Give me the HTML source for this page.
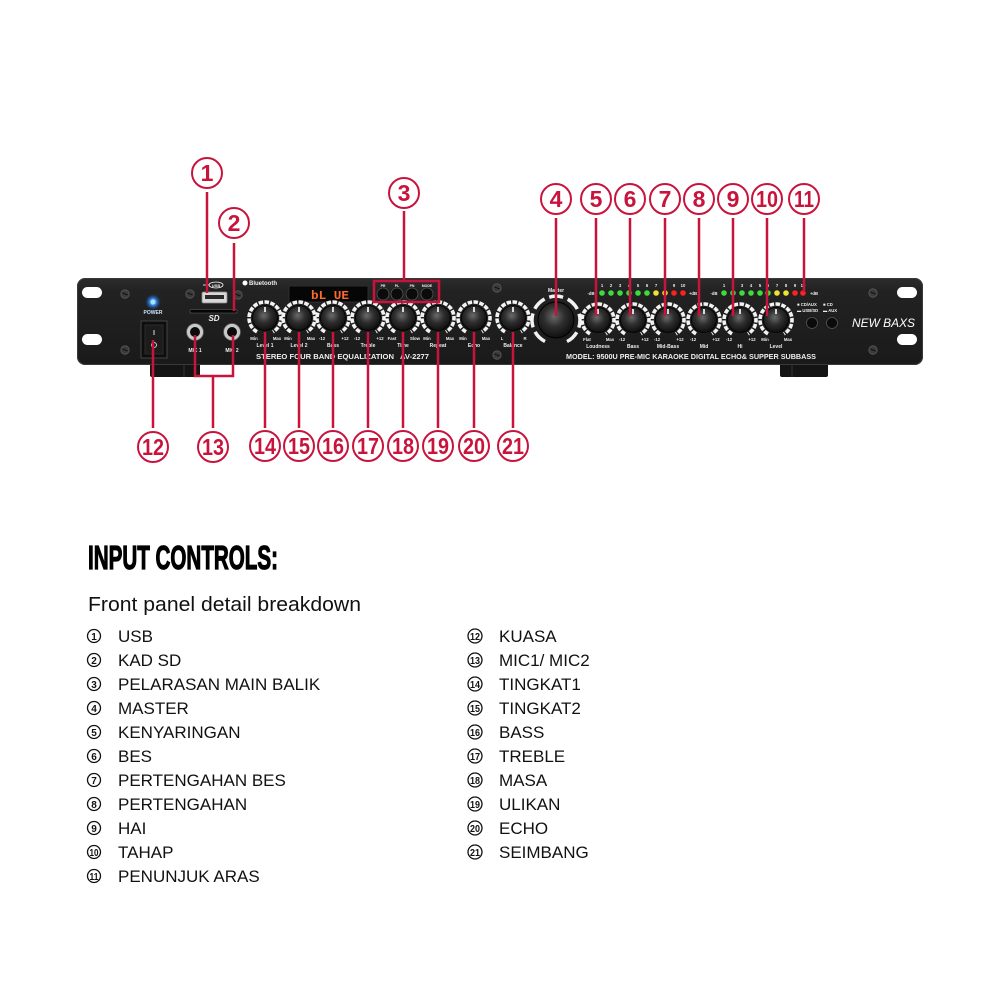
<!DOCTYPE html>
<html>
<head>
<meta charset="utf-8">
<style>
html,body{margin:0;padding:0;background:#fff;}
svg{display:block;}
.pt{font-family:"Liberation Sans",Arial,sans-serif;font-weight:bold;fill:#eee;}
.cn{font-family:"Liberation Sans",Arial,sans-serif;font-weight:bold;fill:#c8143c;font-size:23px;text-anchor:middle;}
.li{font-family:"Liberation Sans",Arial,sans-serif;font-size:17px;fill:#111;}
.ln{font-family:"Liberation Sans",Arial,sans-serif;font-weight:bold;font-size:10px;fill:#111;text-anchor:middle;}
</style>
</head>
<body>
<svg width="1000" height="1000" viewBox="0 0 1000 1000" xmlns="http://www.w3.org/2000/svg">
<defs>
  <linearGradient id="pg" x1="0" y1="0" x2="0" y2="1">
    <stop offset="0" stop-color="#2c2c2c"/>
    <stop offset="0.15" stop-color="#222"/>
    <stop offset="1" stop-color="#1a1a1a"/>
  </linearGradient>
  <radialGradient id="kg" cx="0.45" cy="0.4" r="0.65">
    <stop offset="0" stop-color="#6a6a6a"/>
    <stop offset="0.45" stop-color="#2e2e2e"/>
    <stop offset="1" stop-color="#0a0a0a"/>
  </radialGradient>
  <radialGradient id="led" cx="0.5" cy="0.5" r="0.5">
    <stop offset="0" stop-color="#bfe4ff"/>
    <stop offset="0.35" stop-color="#3a9cff"/>
    <stop offset="1" stop-color="#1a4aa0" stop-opacity="0"/>
  </radialGradient>
  <g id="knob">
    <path d="M -8 13.86 A 16 16 0 1 1 8 13.86" fill="none" stroke="#f2f2f2" stroke-width="3.6" stroke-dasharray="4.5 1.4"/>
    <circle r="12.5" fill="url(#kg)" stroke="#000" stroke-width="0.8"/>
    <rect x="-0.8" y="-11" width="1.6" height="5" fill="#fff"/>
  </g>
  <g id="mknob">
    <path d="M -11 21.5 A 24 24 0 1 1 11 21.5" fill="none" stroke="#f2f2f2" stroke-width="3.5" stroke-dasharray="14 5"/>
    <circle r="18" fill="url(#kg)" stroke="#000" stroke-width="1"/>
    <rect x="-1" y="-16" width="2" height="6" fill="#fff"/>
  </g>
  <g id="screw">
    <circle r="4.2" fill="#3a3a3a" stroke="#5a5a5a" stroke-width="0.8"/>
    <path d="M-2.5 -1 L2.5 1" stroke="#111" stroke-width="1"/>
  </g>
</defs>

<!-- feet -->
<rect x="150" y="360" width="50" height="17" rx="2" fill="#141414"/>
<line x1="184" y1="362" x2="184" y2="377" stroke="#333" stroke-width="1"/>
<rect x="780" y="360" width="48" height="17" rx="2" fill="#141414"/>
<line x1="792" y1="362" x2="792" y2="377" stroke="#333" stroke-width="1"/>

<!-- panel -->
<rect x="77" y="278" width="846" height="87" rx="8" fill="url(#pg)"/>
<rect x="77.5" y="278.5" width="845" height="86" rx="8" fill="none" stroke="#3a3a3a" stroke-width="1"/>
<!-- ear slots -->
<rect x="82" y="287" width="20" height="11" rx="5.5" fill="#fff"/>
<rect x="82" y="334" width="20" height="11" rx="5.5" fill="#fff"/>
<rect x="897" y="287" width="20" height="11" rx="5.5" fill="#fff"/>
<rect x="897" y="334" width="20" height="11" rx="5.5" fill="#fff"/>

<!-- screws -->
<use href="#screw" x="125" y="294"/>
<use href="#screw" x="125" y="350"/>
<use href="#screw" x="190" y="294"/>
<use href="#screw" x="238" y="295"/>
<use href="#screw" x="497" y="288"/>
<use href="#screw" x="497" y="355"/>
<use href="#screw" x="873" y="293"/>
<use href="#screw" x="873" y="350"/>

<!-- power -->
<circle cx="153" cy="302" r="8" fill="url(#led)"/>
<circle cx="153" cy="302" r="2.5" fill="#aee0ff"/>
<text x="153" y="314" class="pt" font-size="5" text-anchor="middle" style="fill:#cfe6ff">POWER</text>
<rect x="141" y="321" width="26" height="37" fill="#0e0e0e" stroke="#444" stroke-width="1"/>
<rect x="145" y="325" width="18" height="29" fill="#1c1c1c" stroke="#333" stroke-width="0.8"/>
<line x1="154" y1="330" x2="154" y2="335" stroke="#ddd" stroke-width="1"/>
<circle cx="154" cy="345" r="2.5" fill="none" stroke="#ddd" stroke-width="0.9"/>

<!-- USB -->
<ellipse cx="216" cy="285" rx="7" ry="3" fill="none" stroke="#fff" stroke-width="0.8"/>
<text x="216" y="287" class="pt" font-size="4" text-anchor="middle">USB</text>
<path d="M203 285 H209" stroke="#fff" stroke-width="0.8"/>
<rect x="202" y="292" width="25" height="11" rx="1.5" fill="#d8d8d8" stroke="#888" stroke-width="0.8"/>
<rect x="205" y="295" width="19" height="4" fill="#2a2a2a"/>
<!-- SD -->
<rect x="190" y="309.5" width="47" height="3.5" rx="1" fill="#050505" stroke="#666" stroke-width="0.6"/>
<text x="214" y="321" class="pt" font-size="8" text-anchor="middle" font-style="italic">SD</text>
<!-- MIC jacks -->
<circle cx="195" cy="332" r="8.5" fill="#c8c8c8" stroke="#555" stroke-width="0.8"/>
<circle cx="195" cy="332" r="5" fill="#0a0a0a"/>
<circle cx="232" cy="332" r="8.5" fill="#c8c8c8" stroke="#555" stroke-width="0.8"/>
<circle cx="232" cy="332" r="5" fill="#0a0a0a"/>
<text x="195" y="352" class="pt" font-size="5" text-anchor="middle">MIC 1</text>
<text x="232" y="352" class="pt" font-size="5" text-anchor="middle">MIC 2</text>

<!-- Bluetooth -->
<circle cx="245" cy="283" r="2.5" fill="#fff"/>
<text x="249" y="285" class="pt" font-size="6">Bluetooth</text>

<!-- display -->
<rect x="289" y="286" width="79" height="16" fill="#060606" stroke="#333" stroke-width="0.8"/>
<text x="311" y="299" font-family="Liberation Mono, monospace" font-weight="bold" font-size="12" fill="#ff6a2a" textLength="38" lengthAdjust="spacingAndGlyphs">bL UE</text>

<!-- buttons group -->
<text x="383" y="287" class="pt" font-size="3.5" text-anchor="middle">PR</text>
<text x="397" y="287" class="pt" font-size="3.5" text-anchor="middle">PL</text>
<text x="412" y="287" class="pt" font-size="3.5" text-anchor="middle">PN</text>
<text x="427" y="287" class="pt" font-size="3.5" text-anchor="middle">MODE</text>
<circle cx="383" cy="294" r="6" fill="#0b0b0b" stroke="#555" stroke-width="0.8"/>
<circle cx="397" cy="294" r="6" fill="#0b0b0b" stroke="#555" stroke-width="0.8"/>
<circle cx="412" cy="294" r="6" fill="#0b0b0b" stroke="#555" stroke-width="0.8"/>
<circle cx="427" cy="294" r="6" fill="#0b0b0b" stroke="#555" stroke-width="0.8"/>

<!-- row 1 knobs -->
<use href="#knob" x="265" y="318"/>
<use href="#knob" x="299" y="318"/>
<use href="#knob" x="333" y="318"/>
<use href="#knob" x="368" y="318"/>
<use href="#knob" x="403" y="318"/>
<use href="#knob" x="438" y="318"/>
<use href="#knob" x="474" y="318"/>
<use href="#knob" x="513" y="318"/>
<g class="pt" font-size="4.3" text-anchor="middle">
  <text x="254" y="340">Min</text><text x="277" y="340">Max</text>
  <text x="288" y="340">Min</text><text x="311" y="340">Max</text>
  <text x="322" y="340">-12</text><text x="345" y="340">+12</text>
  <text x="357" y="340">-12</text><text x="380" y="340">+12</text>
  <text x="392" y="340">Fast</text><text x="415" y="340">Slow</text>
  <text x="427" y="340">Min</text><text x="450" y="340">Max</text>
  <text x="463" y="340">Min</text><text x="486" y="340">Max</text>
  <text x="502" y="340">L</text><text x="525" y="340">R</text>
</g>
<g class="pt" font-size="5" text-anchor="middle">
  <text x="265" y="347">Level 1</text>
  <text x="299" y="347">Level 2</text>
  <text x="333" y="347">Bass</text>
  <text x="368" y="347">Treble</text>
  <text x="403" y="347">Time</text>
  <text x="438" y="347">Repeat</text>
  <text x="474" y="347">Echo</text>
  <text x="513" y="347">Balance</text>
</g>
<text x="256" y="359" class="pt" font-size="7.5" textLength="138" lengthAdjust="spacingAndGlyphs">STEREO FOUR BAND EQUALIZATION</text>
<text x="400" y="359" class="pt" font-size="7.5" textLength="29" lengthAdjust="spacingAndGlyphs">AV-2277</text>

<!-- master -->
<text x="556" y="292" class="pt" font-size="5" text-anchor="middle">Master</text>
<use href="#mknob" x="556" y="320"/>

<!-- right knobs -->
<use href="#knob" x="598" y="320"/>
<use href="#knob" x="633" y="320"/>
<use href="#knob" x="668" y="320"/>
<use href="#knob" x="704" y="320"/>
<use href="#knob" x="740" y="320"/>
<use href="#knob" x="776" y="320"/>
<g class="pt" font-size="4.3" text-anchor="middle">
  <text x="587" y="341">Flat</text><text x="610" y="341">Max</text>
  <text x="622" y="341">-12</text><text x="645" y="341">+12</text>
  <text x="657" y="341">-12</text><text x="680" y="341">+12</text>
  <text x="693" y="341">-12</text><text x="716" y="341">+12</text>
  <text x="729" y="341">-12</text><text x="752" y="341">+12</text>
  <text x="765" y="341">Min</text><text x="788" y="341">Max</text>
</g>
<g class="pt" font-size="5" text-anchor="middle">
  <text x="598" y="348">Loudness</text>
  <text x="633" y="348">Bass</text>
  <text x="668" y="348">Mid-Bass</text>
  <text x="704" y="348">Mid</text>
  <text x="740" y="348">Hi</text>
  <text x="776" y="348">Level</text>
</g>
<text x="566" y="359" class="pt" font-size="7.5" textLength="250" lengthAdjust="spacingAndGlyphs">MODEL:  9500U  PRE-MIC KARAOKE DIGITAL ECHO&amp; SUPPER SUBBASS</text>

<!-- LEDs -->
<g class="pt" font-size="4.2" text-anchor="middle">
  <text x="591" y="295">-dB</text><text x="693" y="295">+dB</text>
  <text x="602" y="287">1</text><text x="611" y="287">2</text><text x="620" y="287">3</text><text x="629" y="287">4</text><text x="638" y="287">5</text><text x="647" y="287">6</text><text x="656" y="287">7</text><text x="665" y="287">8</text><text x="674" y="287">9</text><text x="683" y="287">10</text>
  <text x="714" y="295">-dB</text><text x="814" y="295">+dB</text>
  <text x="724" y="287">1</text><text x="733" y="287">2</text><text x="742" y="287">3</text><text x="751" y="287">4</text><text x="760" y="287">5</text><text x="768" y="287">6</text><text x="777" y="287">7</text><text x="786" y="287">8</text><text x="795" y="287">9</text><text x="803" y="287">10</text>
</g>
<g>
  <circle cx="602" cy="293" r="2.8" fill="#3ddc3d"/><circle cx="611" cy="293" r="2.8" fill="#3ddc3d"/><circle cx="620" cy="293" r="2.8" fill="#3ddc3d"/><circle cx="629" cy="293" r="2.8" fill="#3ddc3d"/><circle cx="638" cy="293" r="2.8" fill="#3ddc3d"/><circle cx="647" cy="293" r="2.8" fill="#3ddc3d"/><circle cx="656" cy="293" r="2.8" fill="#f0e030"/><circle cx="665" cy="293" r="2.8" fill="#f0e030"/><circle cx="674" cy="293" r="2.8" fill="#ff2020"/><circle cx="683" cy="293" r="2.8" fill="#ff2020"/>
  <circle cx="724" cy="293" r="2.8" fill="#3ddc3d"/><circle cx="733" cy="293" r="2.8" fill="#3ddc3d"/><circle cx="742" cy="293" r="2.8" fill="#3ddc3d"/><circle cx="751" cy="293" r="2.8" fill="#3ddc3d"/><circle cx="760" cy="293" r="2.8" fill="#3ddc3d"/><circle cx="768" cy="293" r="2.8" fill="#3ddc3d"/><circle cx="777" cy="293" r="2.8" fill="#f0e030"/><circle cx="786" cy="293" r="2.8" fill="#f0e030"/><circle cx="795" cy="293" r="2.8" fill="#ff2020"/><circle cx="803" cy="293" r="2.8" fill="#ff2020"/>
</g>

<!-- selector -->
<g class="pt" font-size="4.2">
  <text x="797" y="306">■ CD/AUX</text><text x="797" y="312">▬ USB/SD</text>
  <text x="823" y="306">■ CD</text><text x="823" y="312">▬ AUX</text>
</g>
<circle cx="812" cy="323" r="5.5" fill="#0b0b0b" stroke="#555" stroke-width="0.8"/>
<circle cx="832" cy="323" r="5.5" fill="#0b0b0b" stroke="#555" stroke-width="0.8"/>
<text x="852" y="327" class="pt" font-size="12" font-style="italic" textLength="63" lengthAdjust="spacingAndGlyphs" style="font-weight:normal;fill:#fff">NEW BAXS</text>

<!-- callout lines -->
<g stroke="#c8143c" stroke-width="2.5" fill="none">
  <line x1="207" y1="192" x2="207" y2="293"/>
  <line x1="234" y1="243" x2="234" y2="311"/>
  <line x1="404" y1="211" x2="404" y2="281"/>
  <rect x="374" y="281" width="65" height="21"/>
  <line x1="556" y1="218" x2="556" y2="316"/>
  <line x1="596" y1="218" x2="596" y2="316"/>
  <line x1="630" y1="218" x2="630" y2="316"/>
  <line x1="665" y1="218" x2="665" y2="316"/>
  <line x1="699" y1="218" x2="699" y2="316"/>
  <line x1="733" y1="218" x2="733" y2="316"/>
  <line x1="767" y1="218" x2="767" y2="316"/>
  <line x1="804" y1="218" x2="804" y2="292"/>
  <line x1="153" y1="340" x2="153" y2="428"/>
  <path d="M195 335 V376 H233 V335"/>
  <line x1="213" y1="376" x2="213" y2="428"/>
  <line x1="265" y1="332" x2="265" y2="428"/>
  <line x1="299" y1="332" x2="299" y2="428"/>
  <line x1="333" y1="332" x2="333" y2="428"/>
  <line x1="368" y1="332" x2="368" y2="428"/>
  <line x1="403" y1="332" x2="403" y2="428"/>
  <line x1="438" y1="332" x2="438" y2="428"/>
  <line x1="474" y1="332" x2="474" y2="428"/>
  <line x1="513" y1="332" x2="513" y2="428"/>
</g>

<!-- callout circles -->
<g stroke="#c8143c" stroke-width="2" fill="#fff">
  <circle cx="207" cy="173" r="15"/>
  <circle cx="234" cy="223" r="15"/>
  <circle cx="404" cy="193" r="15"/>
  <circle cx="556" cy="199" r="15"/>
  <circle cx="596" cy="199" r="15"/>
  <circle cx="630" cy="199" r="15"/>
  <circle cx="665" cy="199" r="15"/>
  <circle cx="699" cy="199" r="15"/>
  <circle cx="733" cy="199" r="15"/>
  <circle cx="767" cy="199" r="15"/>
  <circle cx="804" cy="199" r="15"/>
  <circle cx="153" cy="447" r="15"/>
  <circle cx="213" cy="447" r="15"/>
  <circle cx="265" cy="446" r="15"/>
  <circle cx="299" cy="446" r="15"/>
  <circle cx="333" cy="446" r="15"/>
  <circle cx="368" cy="446" r="15"/>
  <circle cx="403" cy="446" r="15"/>
  <circle cx="438" cy="446" r="15"/>
  <circle cx="474" cy="446" r="15"/>
  <circle cx="513" cy="446" r="15"/>
</g>
<g class="cn">
  <text x="207" y="181">1</text>
  <text x="234" y="231">2</text>
  <text x="404" y="201">3</text>
  <text x="556" y="207">4</text>
  <text x="596" y="207">5</text>
  <text x="630" y="207">6</text>
  <text x="665" y="207">7</text>
  <text x="699" y="207">8</text>
  <text x="733" y="207">9</text>
  <text x="767" y="207" textLength="22" lengthAdjust="spacingAndGlyphs">10</text>
  <text x="804" y="207" textLength="20" lengthAdjust="spacingAndGlyphs">11</text>
  <text x="153" y="455" textLength="22" lengthAdjust="spacingAndGlyphs">12</text>
  <text x="213" y="455" textLength="22" lengthAdjust="spacingAndGlyphs">13</text>
  <text x="265" y="454" textLength="22" lengthAdjust="spacingAndGlyphs">14</text>
  <text x="299" y="454" textLength="22" lengthAdjust="spacingAndGlyphs">15</text>
  <text x="333" y="454" textLength="22" lengthAdjust="spacingAndGlyphs">16</text>
  <text x="368" y="454" textLength="22" lengthAdjust="spacingAndGlyphs">17</text>
  <text x="403" y="454" textLength="22" lengthAdjust="spacingAndGlyphs">18</text>
  <text x="438" y="454" textLength="22" lengthAdjust="spacingAndGlyphs">19</text>
  <text x="474" y="454" textLength="22" lengthAdjust="spacingAndGlyphs">20</text>
  <text x="513" y="454" textLength="22" lengthAdjust="spacingAndGlyphs">21</text>
</g>

<!-- heading -->
<text x="88" y="569" font-family="Liberation Sans Narrow, Liberation Sans, Arial, sans-serif" font-weight="bold" font-size="33" fill="#000" stroke="#000" stroke-width="1.2" textLength="190" lengthAdjust="spacingAndGlyphs">INPUT CONTROLS:</text>
<text x="88" y="611" font-family="Liberation Sans, Arial, sans-serif" font-size="20" fill="#111" textLength="273" lengthAdjust="spacingAndGlyphs">Front panel detail breakdown</text>

<!-- list circles -->
<g fill="none" stroke="#111" stroke-width="1.3">
  <circle cx="94" cy="636" r="6.5"/><circle cx="94" cy="660" r="6.5"/><circle cx="94" cy="684" r="6.5"/><circle cx="94" cy="708" r="6.5"/><circle cx="94" cy="732" r="6.5"/><circle cx="94" cy="756" r="6.5"/><circle cx="94" cy="780" r="6.5"/><circle cx="94" cy="804" r="6.5"/><circle cx="94" cy="828" r="6.5"/><circle cx="94" cy="852" r="6.5"/><circle cx="94" cy="876" r="6.5"/>
  <circle cx="475" cy="636" r="7"/><circle cx="475" cy="660" r="7"/><circle cx="475" cy="684" r="7"/><circle cx="475" cy="708" r="7"/><circle cx="475" cy="732" r="7"/><circle cx="475" cy="756" r="7"/><circle cx="475" cy="780" r="7"/><circle cx="475" cy="804" r="7"/><circle cx="475" cy="828" r="7"/><circle cx="475" cy="852" r="7"/>
</g>
<g class="ln">
  <text x="94" y="640">1</text><text x="94" y="664">2</text><text x="94" y="688">3</text><text x="94" y="712">4</text><text x="94" y="736">5</text><text x="94" y="760">6</text><text x="94" y="784">7</text><text x="94" y="808">8</text><text x="94" y="832">9</text>
  <text x="94" y="856" textLength="9" lengthAdjust="spacingAndGlyphs">10</text>
  <text x="94" y="880" textLength="9" lengthAdjust="spacingAndGlyphs">11</text>
  <text x="475" y="640" textLength="10" lengthAdjust="spacingAndGlyphs">12</text>
  <text x="475" y="664" textLength="10" lengthAdjust="spacingAndGlyphs">13</text>
  <text x="475" y="688" textLength="10" lengthAdjust="spacingAndGlyphs">14</text>
  <text x="475" y="712" textLength="10" lengthAdjust="spacingAndGlyphs">15</text>
  <text x="475" y="736" textLength="10" lengthAdjust="spacingAndGlyphs">16</text>
  <text x="475" y="760" textLength="10" lengthAdjust="spacingAndGlyphs">17</text>
  <text x="475" y="784" textLength="10" lengthAdjust="spacingAndGlyphs">18</text>
  <text x="475" y="808" textLength="10" lengthAdjust="spacingAndGlyphs">19</text>
  <text x="475" y="832" textLength="10" lengthAdjust="spacingAndGlyphs">20</text>
  <text x="475" y="856" textLength="10" lengthAdjust="spacingAndGlyphs">21</text>
</g>
<g class="li">
  <text x="118" y="642">USB</text>
  <text x="118" y="666">KAD SD</text>
  <text x="118" y="690">PELARASAN MAIN BALIK</text>
  <text x="118" y="714">MASTER</text>
  <text x="118" y="738">KENYARINGAN</text>
  <text x="118" y="762">BES</text>
  <text x="118" y="786">PERTENGAHAN BES</text>
  <text x="118" y="810">PERTENGAHAN</text>
  <text x="118" y="834">HAI</text>
  <text x="118" y="858">TAHAP</text>
  <text x="118" y="882">PENUNJUK ARAS</text>
  <text x="499" y="642">KUASA</text>
  <text x="499" y="666">MIC1/ MIC2</text>
  <text x="499" y="690">TINGKAT1</text>
  <text x="499" y="714">TINGKAT2</text>
  <text x="499" y="738">BASS</text>
  <text x="499" y="762">TREBLE</text>
  <text x="499" y="786">MASA</text>
  <text x="499" y="810">ULIKAN</text>
  <text x="499" y="834">ECHO</text>
  <text x="499" y="858">SEIMBANG</text>
</g>
</svg>
</body>
</html>
